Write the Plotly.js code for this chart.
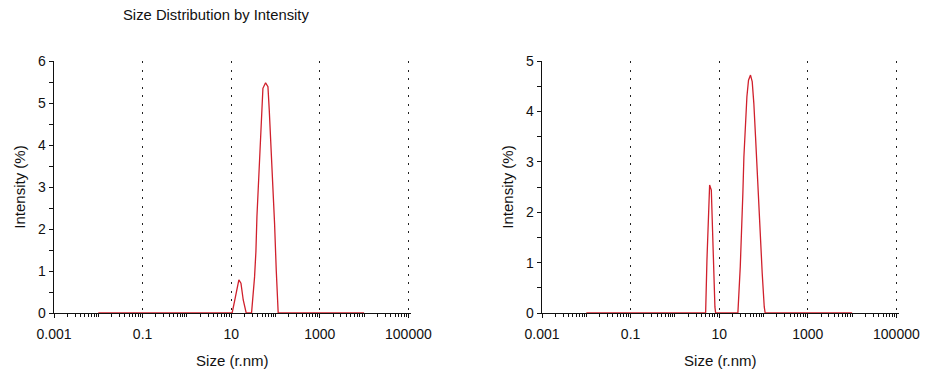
<!DOCTYPE html>
<html>
<head>
<meta charset="utf-8">
<script src="https://cdn.plot.ly/plotly-3.0.1.min.js"></script>
<style>html,body{margin:0;padding:0;background:#fff;}#chart{width:932px;height:374px;}</style>
</head>
<body>
<div id="chart"></div>
<script>
// Sample 1 (left): size (r.nm) and intensity (%)
const sizeA = [0.01, 10.5, 12.5, 14.9, 16.6, 18.7, 21.8, 28.8, 33.7, 36.1, 38.1, 40.8, 43.7, 48.4, 52.0, 59.7, 67.5, 72.3, 81.5, 87.6, 95.3, 104, 111, 115, 10000];
const intA  = [0,    0,    0.39, 0.79, 0.71, 0.31, 0,    0,    0.86, 1.46, 2.29, 3.00, 3.72, 4.75, 5.35, 5.48, 5.39, 4.83, 3.72, 3.00, 2.13, 1.02, 0.11, 0,   0];
// Sample 2 (right)
const sizeB = [0.01, 4.94, 5.29, 5.77, 6.08, 6.64, 6.98, 7.48, 8.0, 8.3, 26.4, 29.9, 32.5, 34.2, 36.1, 39.4, 42.2, 45.9, 50.9, 55.6, 60.5, 66.1, 74.5, 84.3, 93.5, 104, 109, 10000];
const intB  = [0,    0,    1.05, 1.78, 2.54, 2.44, 1.71, 0.92, 0.12, 0,   0,    0.92, 1.71, 2.37, 3.10, 3.83, 4.29, 4.62, 4.72, 4.59, 4.16, 3.50, 2.51, 1.58, 0.79, 0.12, 0,   0];

const xTickVals = [0.001, 0.1, 10, 1000, 100000];
const xTickText = ['0.001', '0.1', '10', '1000', '100000'];
const yMaxA = 6, yMaxB = 5;

const chartTitle = 'Size Distribution by Intensity';
const xTitle = 'Size (r.nm)';
const yTitle = 'Intensity (%)';

const red = '#d0202c';
const font = {family: 'Liberation Sans, Arial, sans-serif', size: 14, color: '#111'};

const traces = [
  {x: sizeA, y: intA, xaxis: 'x', yaxis: 'y', type: 'scatter', mode: 'lines',
   line: {color: red, width: 1.3}, hoverinfo: 'skip'},
  {x: sizeB, y: intB, xaxis: 'x2', yaxis: 'y2', type: 'scatter', mode: 'lines',
   line: {color: red, width: 1.3}, hoverinfo: 'skip'}
];

const W = 932, H = 374;
const xr = [-3, 5.05];
const pxPerDec = 44.3;
const domA = [54 / W, (54 + 8.05 * pxPerDec) / W];
const domB = [542 / W, (542 + 8.05 * pxPerDec) / W];
const domY = [(H - 313) / H, (H - 61) / H];

function xAx(dom, anchor) {
  return {
    type: 'log', range: xr, domain: dom, anchor: anchor, fixedrange: true,
    tickmode: 'array', tickvals: xTickVals, ticktext: xTickText,
    ticks: 'outside', ticklen: 4, tickcolor: '#111', tickwidth: 1,
    ticklabelstandoff: 4,
    minor: {ticks: 'outside', ticklen: 3, tickcolor: '#111', dtick: 'D1', showgrid: false},
    showline: true, linecolor: '#111', linewidth: 1.3, layer: 'below traces',
    showgrid: true, gridcolor: '#222', gridwidth: 1, griddash: '2px,6.5px',
    zeroline: false, automargin: false,
    tickfont: font,
    title: {text: xTitle, font: Object.assign({}, font, {size: 15}), standoff: 14}
  };
}
function xOver(dom, anchor, over) {
  return {
    type: 'log', range: xr, domain: dom, anchor: anchor, overlaying: over, fixedrange: true,
    tickmode: 'array', tickvals: xTickVals, ticktext: ['', '', '', '', ''],
    ticks: 'inside', ticklen: 4, tickcolor: '#111', tickwidth: 1,
    minor: {ticks: 'inside', ticklen: 3, tickcolor: '#111', dtick: 'D1', showgrid: false},
    showline: false, showgrid: false, zeroline: false, showticklabels: false, automargin: false
  };
}
function yAx(max, anchor) {
  return {
    range: [0, max], domain: domY, anchor: anchor, fixedrange: true,
    dtick: 1, tick0: 0, ticks: 'outside', ticklen: 4, tickcolor: '#111', tickwidth: 1,
    minor: {dtick: 0.5, ticks: 'outside', ticklen: 4, tickcolor: '#111', showgrid: false},
    showline: true, linecolor: '#111', linewidth: 1.5, layer: 'below traces',
    showgrid: false, zeroline: false, automargin: false,
    tickfont: font,
    title: {text: yTitle, font: Object.assign({}, font, {size: 15}), standoff: 8}
  };
}
function yOver(max, anchor, over) {
  return {
    range: [0, max], domain: domY, anchor: anchor, overlaying: over, fixedrange: true,
    dtick: 0.5, tick0: 0, ticks: 'inside', ticklen: 4, tickcolor: '#111', tickwidth: 1,
    showline: false, showgrid: false, zeroline: false, showticklabels: false, automargin: false
  };
}

const layout = {
  width: W, height: H,
  margin: {l: 0, r: 0, t: 0, b: 0},
  paper_bgcolor: '#fff', plot_bgcolor: '#fff',
  showlegend: false,
  font: font,
  xaxis: xAx(domA, 'y'),
  yaxis: yAx(yMaxA, 'x'),
  xaxis2: xAx(domB, 'y2'),
  yaxis2: yAx(yMaxB, 'x2'),
  xaxis3: xOver(domA, 'y', 'x'),
  yaxis3: yOver(yMaxA, 'x', 'y'),
  xaxis4: xOver(domB, 'y2', 'x2'),
  yaxis4: yOver(yMaxB, 'x2', 'y2'),
  annotations: [{
    text: chartTitle, xref: 'paper', yref: 'paper',
    x: 216 / W, y: (H - 15) / H, xanchor: 'center', yanchor: 'middle',
    showarrow: false, font: Object.assign({}, font, {size: 14.8})
  }]
};

Plotly.newPlot('chart', traces, layout, {staticPlot: true, displayModeBar: false});
</script>
</body>
</html>
